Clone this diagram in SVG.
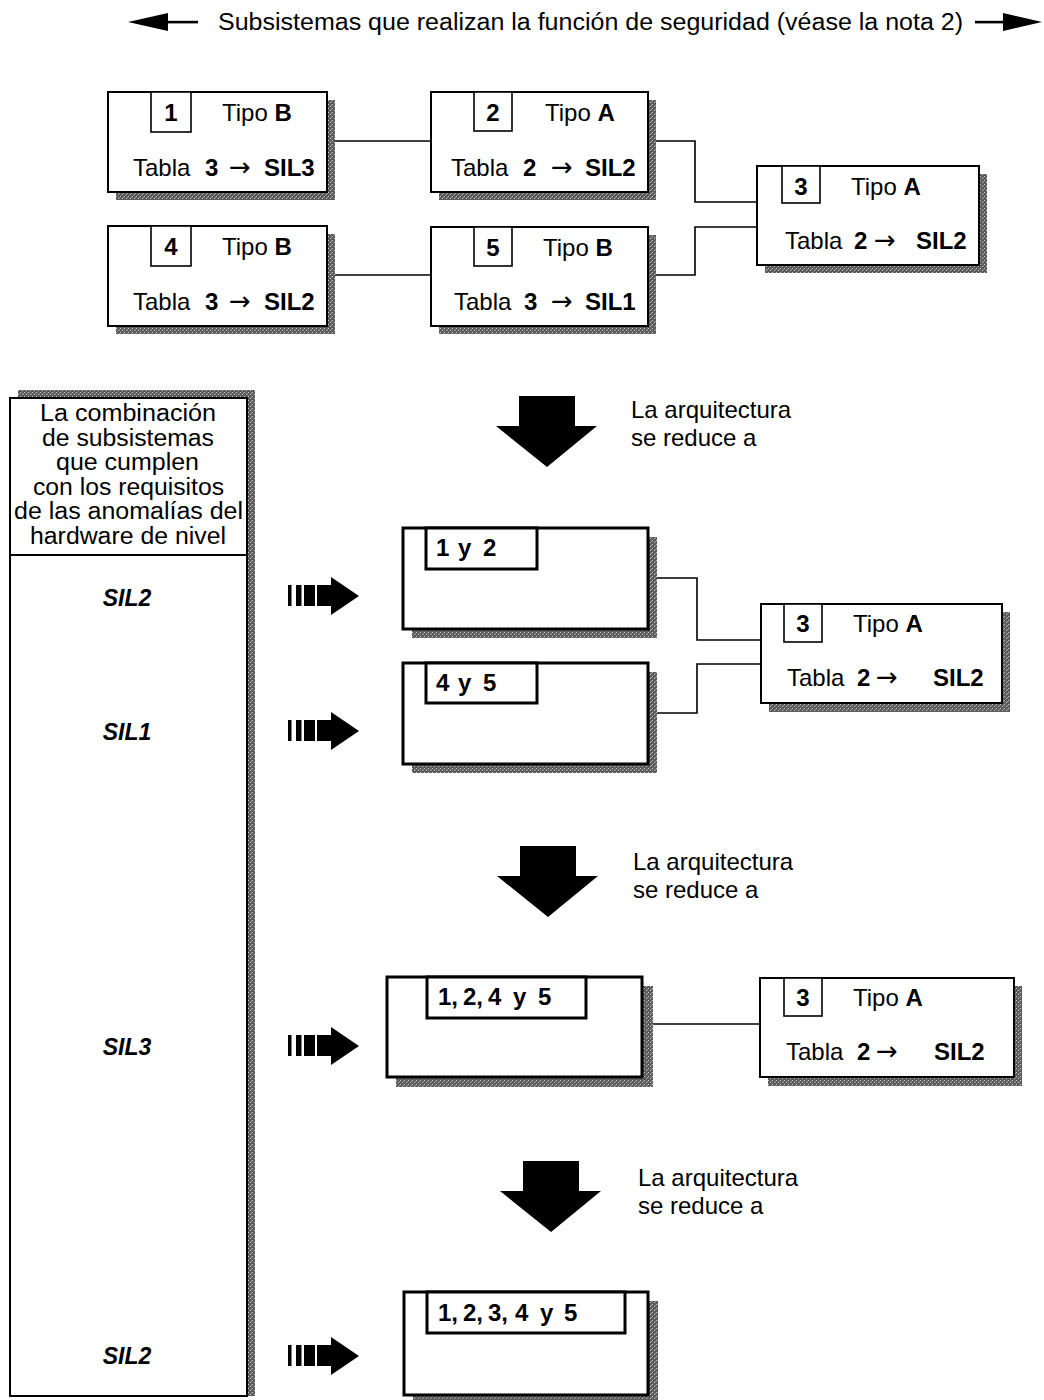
<svg xmlns="http://www.w3.org/2000/svg" width="1044" height="1400" viewBox="0 0 1044 1400">
<style>
text{font-family:"Liberation Sans",Arial,sans-serif;fill:#000}
.t{font-size:24px}
.b{font-weight:bold}
.ar{font-family:"DejaVu Sans",sans-serif;font-size:26px}
.h{font-size:23px}
.sil{font-size:23px;font-weight:bold;font-style:italic}
.box{fill:#fff;stroke:#000;stroke-width:2}
.tbox{fill:#fff;stroke:#000;stroke-width:3}
.nbox{fill:#fff;stroke:#000;stroke-width:1.6}
.shd{fill:url(#dots)}
.con{fill:none;stroke:#000;stroke-width:1.6}
</style>
<defs>
<pattern id="dots" width="4" height="4" patternUnits="userSpaceOnUse">
<rect width="4" height="4" fill="#5c5c5c"/>
<rect x="0" y="0" width="1" height="1" fill="#c8c8c8"/>
<rect x="2" y="2" width="1" height="1" fill="#c8c8c8"/>
<rect x="3" y="1" width="1" height="1" fill="#999"/>
</pattern>
<g id="bigdown"><polygon points="23,0 79,0 79,30 101,30 51,71 0,30 23,30" fill="#000"/></g>
<g id="striped" fill="#000">
<rect x="0" y="-11" width="3.5" height="21"/>
<rect x="8" y="-11" width="5.5" height="21"/>
<rect x="16" y="-11" width="11" height="21"/>
<rect x="29" y="-11" width="14" height="21"/>
<polygon points="43,-19 71,0 43,19"/>
</g>
</defs>

<g id="title">
<polygon points="128,22 168,13 168,31" fill="#000"/>
<rect x="166" y="20.8" width="32" height="2.6" fill="#000"/>
<text x="218" y="30" font-size="23" textLength="745" lengthAdjust="spacingAndGlyphs">Subsistemas que realizan la función de seguridad (véase la nota 2)</text>
<rect x="975" y="20.8" width="32" height="2.6" fill="#000"/>
<polygon points="1042,22 1003,13 1003,31" fill="#000"/>
</g>

<g id="connectors">
<line class="con" x1="335" y1="141" x2="431" y2="141"/>
<polyline class="con" points="656,141 695,141 695,202 757,202"/>
<line class="con" x1="335" y1="275" x2="431" y2="275"/>
<polyline class="con" points="656,275 695,275 695,227 757,227"/>
<polyline class="con" points="657,578 697,578 697,640 761,640"/>
<polyline class="con" points="657,713 697,713 697,664 761,664"/>
<line class="con" x1="652" y1="1024" x2="760" y2="1024"/>
</g>

<g id="node1">
<rect class="shd" x="116" y="100" width="219" height="100"/>
<rect class="box" x="108" y="92" width="219" height="100"/>
<rect class="nbox" x="151" y="92" width="40" height="40"/>
<text class="t b" x="171" y="121" text-anchor="middle">1</text>
<text class="t" x="222" y="121">Tipo <tspan class="b">B</tspan></text>
<text class="t" x="133" y="176">Tabla</text>
<text class="t b" x="205" y="176">3</text>
<text class="ar" x="229" y="176">→</text>
<text class="t b" x="264" y="176">SIL3</text>
</g>

<g id="node2">
<rect class="shd" x="439" y="100" width="217" height="100"/>
<rect class="box" x="431" y="92" width="217" height="100"/>
<rect class="nbox" x="474" y="92" width="38" height="39"/>
<text class="t b" x="493" y="121" text-anchor="middle">2</text>
<text class="t" x="545" y="121">Tipo <tspan class="b">A</tspan></text>
<text class="t" x="451" y="176">Tabla</text>
<text class="t b" x="523" y="176">2</text>
<text class="ar" x="551" y="176">→</text>
<text class="t b" x="585" y="176">SIL2</text>
</g>

<g id="node4">
<rect class="shd" x="116" y="234" width="219" height="100"/>
<rect class="box" x="108" y="226" width="219" height="100"/>
<rect class="nbox" x="151" y="226" width="40" height="40"/>
<text class="t b" x="171" y="255" text-anchor="middle">4</text>
<text class="t" x="222" y="255">Tipo <tspan class="b">B</tspan></text>
<text class="t" x="133" y="310">Tabla</text>
<text class="t b" x="205" y="310">3</text>
<text class="ar" x="229" y="310">→</text>
<text class="t b" x="264" y="310">SIL2</text>
</g>

<g id="node5">
<rect class="shd" x="439" y="235" width="217" height="99"/>
<rect class="box" x="431" y="227" width="217" height="99"/>
<rect class="nbox" x="474" y="227" width="38" height="39"/>
<text class="t b" x="493" y="256" text-anchor="middle">5</text>
<text class="t" x="543" y="256">Tipo <tspan class="b">B</tspan></text>
<text class="t" x="454" y="310">Tabla</text>
<text class="t b" x="524" y="310">3</text>
<text class="ar" x="551" y="310">→</text>
<text class="t b" x="585" y="310">SIL1</text>
</g>

<g id="node3">
<rect class="shd" x="765" y="174" width="222" height="99"/>
<rect class="box" x="757" y="166" width="222" height="99"/>
<rect class="nbox" x="782" y="166" width="38" height="37"/>
<text class="t b" x="801" y="195" text-anchor="middle">3</text>
<text class="t" x="851" y="195">Tipo <tspan class="b">A</tspan></text>
<text class="t" x="785" y="249">Tabla</text>
<text class="t b" x="854" y="249">2</text>
<text class="ar" x="874" y="249">→</text>
<text class="t b" x="916" y="249">SIL2</text>
</g>

<g id="panel">
<rect class="shd" x="18" y="390" width="237" height="1006"/>
<rect class="box" x="10" y="398" width="237" height="998"/>
<line x1="10" y1="555" x2="247" y2="555" stroke="#000" stroke-width="2"/>
<text class="h" x="40" y="421" textLength="176" lengthAdjust="spacingAndGlyphs">La combinación</text>
<text class="h" x="42" y="446" textLength="172" lengthAdjust="spacingAndGlyphs">de subsistemas</text>
<text class="h" x="56" y="470" textLength="143" lengthAdjust="spacingAndGlyphs">que cumplen</text>
<text class="h" x="33" y="495" textLength="191" lengthAdjust="spacingAndGlyphs">con los requisitos</text>
<text class="h" x="14" y="519" textLength="229" lengthAdjust="spacingAndGlyphs">de las anomalías del</text>
<text class="h" x="30" y="544" textLength="196" lengthAdjust="spacingAndGlyphs">hardware de nivel</text>
<text class="sil" x="127" y="606" text-anchor="middle">SIL2</text>
<text class="sil" x="127" y="740" text-anchor="middle">SIL1</text>
<text class="sil" x="127" y="1055" text-anchor="middle">SIL3</text>
<text class="sil" x="127" y="1364" text-anchor="middle">SIL2</text>
</g>

<g id="arrows">
<use href="#striped" transform="translate(288,596)"/>
<use href="#striped" transform="translate(288,731)"/>
<use href="#striped" transform="translate(288,1046)"/>
<use href="#striped" transform="translate(288,1356)"/>
<use href="#bigdown" transform="translate(496,396)"/>
<use href="#bigdown" transform="translate(497,846)"/>
<use href="#bigdown" transform="translate(500,1161)"/>
</g>

<g id="reduce-labels">
<text class="t"><tspan x="631" y="418">La arquitectura</tspan><tspan x="631" y="446">se reduce a</tspan></text>
<text class="t"><tspan x="633" y="870">La arquitectura</tspan><tspan x="633" y="898">se reduce a</tspan></text>
<text class="t"><tspan x="638" y="1186">La arquitectura</tspan><tspan x="638" y="1214">se reduce a</tspan></text>
</g>

<g id="node12">
<rect class="shd" x="412" y="537" width="245" height="101"/>
<rect class="tbox" x="403" y="528" width="245" height="101"/>
<rect class="tbox" x="426" y="528" width="111" height="41"/>
<text class="t b" y="556"><tspan x="436">1</tspan><tspan x="458">y</tspan><tspan x="483">2</tspan></text>
</g>

<g id="node45">
<rect class="shd" x="412" y="672" width="245" height="101"/>
<rect class="tbox" x="403" y="663" width="245" height="101"/>
<rect class="tbox" x="426" y="663" width="111" height="40"/>
<text class="t b" y="691"><tspan x="436">4</tspan><tspan x="458">y</tspan><tspan x="483">5</tspan></text>
</g>

<g id="node3b">
<rect class="shd" x="769" y="612" width="241" height="100"/>
<rect class="box" x="761" y="604" width="241" height="99"/>
<rect class="nbox" x="784" y="604" width="38" height="38"/>
<text class="t b" x="803" y="632" text-anchor="middle">3</text>
<text class="t" x="853" y="632">Tipo <tspan class="b">A</tspan></text>
<text class="t" x="787" y="686">Tabla</text>
<text class="t b" x="857" y="686">2</text>
<text class="ar" x="876" y="686">→</text>
<text class="t b" x="933" y="686">SIL2</text>
</g>

<g id="node1245">
<rect class="shd" x="396" y="986" width="257" height="101"/>
<rect class="tbox" x="387" y="977" width="255" height="100"/>
<rect class="tbox" x="427" y="977" width="159" height="41"/>
<text class="t b" y="1005"><tspan x="438">1,</tspan><tspan x="463">2,</tspan><tspan x="488">4</tspan><tspan x="513">y</tspan><tspan x="538">5</tspan></text>
</g>

<g id="node3c">
<rect class="shd" x="768" y="986" width="254" height="100"/>
<rect class="box" x="760" y="978" width="254" height="99"/>
<rect class="nbox" x="784" y="978" width="38" height="38"/>
<text class="t b" x="803" y="1006" text-anchor="middle">3</text>
<text class="t" x="853" y="1006">Tipo <tspan class="b">A</tspan></text>
<text class="t" x="786" y="1060">Tabla</text>
<text class="t b" x="857" y="1060">2</text>
<text class="ar" x="876" y="1060">→</text>
<text class="t b" x="934" y="1060">SIL2</text>
</g>

<g id="node12345">
<rect class="shd" x="413" y="1301" width="245" height="103"/>
<rect class="tbox" x="404" y="1292" width="244" height="103"/>
<rect class="tbox" x="427" y="1292" width="198" height="41"/>
<text class="t b" y="1321"><tspan x="438">1,</tspan><tspan x="463">2,</tspan><tspan x="488">3,</tspan><tspan x="515">4</tspan><tspan x="540">y</tspan><tspan x="564">5</tspan></text>
</g>
</svg>
